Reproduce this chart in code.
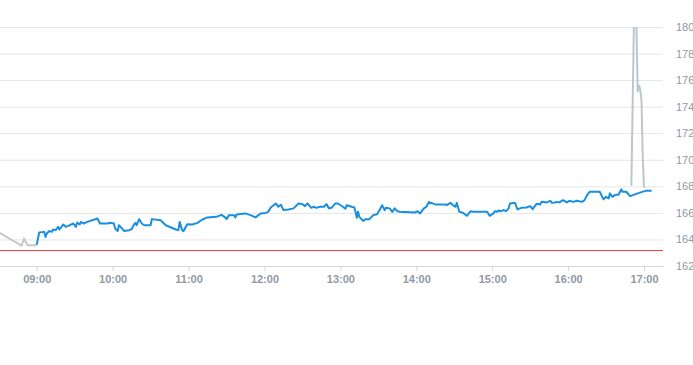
<!DOCTYPE html>
<html>
<head>
<meta charset="utf-8">
<script src="https://cdn.jsdelivr.net/npm/d3@7"></script>
<style>
  body { margin: 0; background: #fff; }
  svg { display: block; font-family: 'Liberation Sans', Arial, sans-serif; }
</style>
</head>
<body>
<div id="chart"></div>
<script>
// intraday price data
const preTimes = ['08:30', '08:48', '08:50', '08:53', '09:00']
const prePrices = [164.53, 163.54, 164.04, 163.56, 163.56]

const sessionTimes = [
  '09:00', '09:02', '09:06', '09:07', '09:08', '09:10', '09:12', '09:13', '09:15', '09:17',
  '09:18', '09:21', '09:23', '09:25', '09:29', '09:31', '09:32', '09:34', '09:35', '09:37',
  '09:40', '09:48', '09:50', '09:56', '09:58', '10:01', '10:02', '10:04', '10:05', '10:07',
  '10:09', '10:13', '10:15', '10:17', '10:18', '10:19', '10:21', '10:23', '10:25', '10:30',
  '10:31', '10:38', '10:42', '10:50', '10:52', '10:53', '10:55', '10:56', '10:59', '11:03',
  '11:07', '11:11', '11:15', '11:22', '11:26', '11:29', '11:30', '11:32', '11:36', '11:37',
  '11:38', '11:45', '11:49', '11:53', '11:57', '12:01', '12:03', '12:05', '12:09', '12:11',
  '12:13', '12:15', '12:19', '12:23', '12:27', '12:30', '12:32', '12:34', '12:37', '12:39',
  '12:41', '12:44', '12:47', '12:49', '12:51', '12:53', '12:56', '12:58', '13:02', '13:04',
  '13:05', '13:09', '13:11', '13:12', '13:13', '13:14', '13:15', '13:18', '13:20', '13:23',
  '13:26', '13:29', '13:31', '13:33', '13:35', '13:36', '13:39', '13:41', '13:43', '13:45',
  '13:47', '13:59', '14:01', '14:03', '14:06', '14:08', '14:10', '14:11', '14:12', '14:15',
  '14:23', '14:24', '14:27', '14:29', '14:31', '14:32', '14:34', '14:37', '14:40', '14:43',
  '14:45', '14:56', '14:58', '15:01', '15:02', '15:04', '15:05', '15:07', '15:09', '15:11',
  '15:13', '15:14', '15:18', '15:20', '15:23', '15:27', '15:30', '15:32', '15:35', '15:38',
  '15:39', '15:43', '15:46', '15:47', '15:50', '15:51', '15:53', '15:56', '15:59', '16:01',
  '16:04', '16:07', '16:11', '16:13', '16:15', '16:17', '16:25', '16:28', '16:30', '16:32',
  '16:33', '16:35', '16:37', '16:40', '16:42', '16:43', '16:46', '16:49', '16:55', '17:01',
  '17:06'
]
const sessionPrices = [
  163.6, 164.52, 164.57, 164.19, 164.45, 164.64, 164.57, 164.75, 164.7, 164.95,
  164.75, 165.13, 164.95, 165.02, 165.2, 164.95, 165.28, 165.13, 165.32, 165.2,
  165.32, 165.58, 165.2, 165.2, 165.26, 165.2, 164.82, 164.64, 165.07, 164.87,
  164.64, 164.7, 164.77, 165.15, 165.25, 165.07, 165.53, 165.2, 165.07, 165.07,
  165.53, 165.45, 165.07, 164.75, 164.7, 165.32, 164.7, 164.62, 165.15, 165.13,
  165.25, 165.5, 165.66, 165.7, 165.85, 165.66, 165.53, 165.83, 165.83, 165.66,
  165.88, 165.96, 165.83, 165.66, 165.96, 166.0, 166.08, 166.41, 166.71, 166.46,
  166.61, 166.21, 166.26, 166.34, 166.71, 166.66, 166.51, 166.71, 166.38, 166.46,
  166.38, 166.46, 166.46, 166.66, 166.34, 166.38, 166.71, 166.71, 166.46, 166.31,
  166.58, 166.46, 166.41, 166.08, 165.63, 166.08, 165.7, 165.4, 165.53, 165.53,
  165.83, 165.9, 166.21, 166.58, 166.21, 166.38, 166.34, 166.08, 166.34, 166.13,
  166.08, 166.03, 166.13, 165.96, 166.34, 166.46, 166.83, 166.71, 166.76, 166.64,
  166.64, 166.58, 166.76, 166.58, 166.46, 166.76, 166.08, 166.0, 165.78, 166.13,
  166.08, 166.08, 165.78, 165.96, 166.13, 166.08, 166.18, 166.13, 166.21, 166.13,
  166.34, 166.71, 166.76, 166.26, 166.38, 166.41, 166.51, 166.28, 166.68, 166.64,
  166.83, 166.79, 166.91, 166.76, 166.79, 166.83, 166.79, 166.96, 166.79, 166.91,
  166.83, 166.91, 166.83, 166.96, 167.34, 167.59, 167.59, 167.02, 167.21, 167.09,
  167.47, 167.21, 167.34, 167.39, 167.77, 167.59, 167.59, 167.26, 167.47, 167.66,
  167.66
]

const afterTimes = ['16:50', '16:52', '16:54', '16:55', '16:56', '16:57', '16:58', '16:59', '17:00']
const afterPrices = [168.04, 180.1, 180.1, 175.1, 175.6, 175.3, 174.5, 170.2, 167.9]

const previousClose = 163.16

const xTicks = ['09:00', '10:00', '11:00', '12:00', '13:00', '14:00', '15:00', '16:00', '17:00']
const yTicks = [162, 164, 166, 168, 170, 172, 174, 176, 178, 180]

const margin = { top: 27, left: 0, right: 30, bottom: 99 }
const width = 693 - margin.left - margin.right
const height = 365 - margin.top - margin.bottom

const parseTime = d3.timeParse('%H:%M')

const svg = d3
  .select('#chart')
  .append('svg')
  .attr('width', width + margin.left + margin.right)
  .attr('height', height + margin.top + margin.bottom)
  .append('g')
  .attr('transform', 'translate(' + margin.left + ',' + margin.top + ')')

const xPositionScale = d3
  .scaleTime()
  .domain([parseTime('08:31'), parseTime('17:15')])
  .range([0, width])

const yPositionScale = d3
  .scaleLinear()
  .domain([162, 180])
  .range([height, 0])

svg
  .append('clipPath')
  .attr('id', 'plot-clip')
  .append('rect')
  .attr('width', width)
  .attr('height', height)

// horizontal grid
const grid = d3
  .axisRight(yPositionScale)
  .tickValues(yTicks)
  .tickSize(width)
  .tickFormat('')
svg
  .append('g')
  .attr('class', 'grid')
  .call(grid)
  .call(g => g.select('.domain').remove())
  .call(g => g.selectAll('line').attr('stroke', '#e4e6e8'))

// right hand price labels
const yAxis = d3
  .axisRight(yPositionScale)
  .tickValues(yTicks)
  .tickSize(0)
  .tickPadding(13)
svg
  .append('g')
  .attr('class', 'axis y-axis')
  .attr('transform', 'translate(' + width + ',0)')
  .call(yAxis)
  .call(g => g.select('.domain').remove())
  .call(g =>
    g
      .selectAll('text')
      .attr('fill', '#8f99a4')
      .attr('font-size', 11)
  )

const xAxis = d3
  .axisBottom(xPositionScale)
  .tickValues(xTicks.map(parseTime))
  .tickFormat(d3.timeFormat('%H:%M'))
  .tickSize(5)
  .tickPadding(4)
  .tickSizeOuter(0)
svg
  .append('g')
  .attr('class', 'axis x-axis')
  .attr('transform', 'translate(0,' + height + ')')
  .call(xAxis)
  .call(g => g.select('.domain').attr('stroke', '#d3d6da'))
  .call(g => g.selectAll('line').attr('stroke', '#d3d6da'))
  .call(g =>
    g
      .selectAll('text')
      .attr('fill', '#8f99a4')
      .attr('font-size', 11)
      .attr('font-weight', 'bold')
  )

// previous close
svg
  .append('line')
  .attr('x1', 0)
  .attr('x2', width)
  .attr('y1', yPositionScale(previousClose))
  .attr('y2', yPositionScale(previousClose))
  .attr('stroke', '#d9433b')
  .attr('stroke-width', 1)

const line = d3
  .line()
  .x(d => xPositionScale(parseTime(d.time)))
  .y(d => yPositionScale(d.price))

const toPoints = (times, prices) => times.map((t, i) => ({ time: t, price: prices[i] }))

const plot = svg.append('g').attr('clip-path', 'url(#plot-clip)')

plot
  .append('path')
  .datum(toPoints(preTimes, prePrices))
  .attr('d', line)
  .attr('fill', 'none')
  .attr('stroke', '#c3c7cb')
  .attr('stroke-width', 2)

plot
  .append('path')
  .datum(toPoints(afterTimes, afterPrices))
  .attr('d', line)
  .attr('fill', 'none')
  .attr('stroke', '#bac7cf')
  .attr('stroke-width', 2)

plot
  .append('path')
  .datum(toPoints(sessionTimes, sessionPrices))
  .attr('d', line)
  .attr('fill', 'none')
  .attr('stroke', '#1a8fdf')
  .attr('stroke-width', 2)
  .attr('stroke-linejoin', 'round')
</script>
</body>
</html>
